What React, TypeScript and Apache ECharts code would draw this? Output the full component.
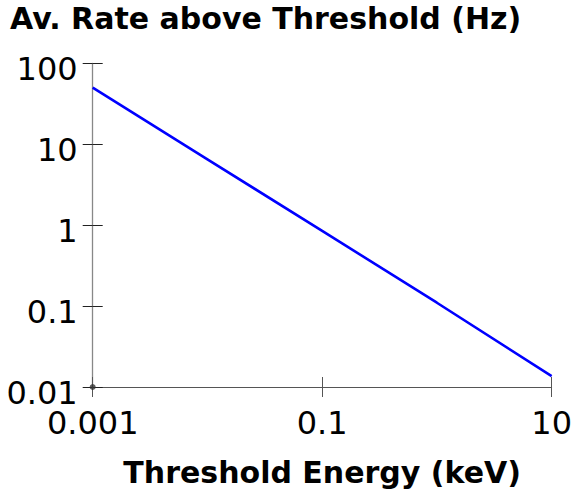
import React, { useEffect, useRef } from "react";
import * as echarts from "echarts";

const energies = [0.001, 0.01, 0.1, 1, 10];
const rates = [50, 6.5, 0.85, 0.11, 0.0136];
const yTickLabels = ["0.01", "0.1", "1", "10", "100"];
const xTickLabels = ["0.001", "0.1", "10"];
const titleText = "Av. Rate above Threshold (Hz)";
const xTitle = "Threshold Energy (keV)";

const FONT = "DejaVu Sans";

function fmt(v: number, labels: string[]) {
  const found = labels.find((l) => Math.abs(Math.log10(parseFloat(l)) - Math.log10(v)) < 1e-6);
  return found ?? "";
}

export default function App() {
  const ref = useRef<HTMLDivElement>(null);
  useEffect(() => {
    if (!ref.current) return;
    const chart = echarts.init(ref.current, undefined, { renderer: "svg" });
    const grid = { left: 92.7, right: 22.3, top: 63.3, bottom: 103.5 };
    const xBase = {
      type: "log" as const,
      logBase: 10,
      min: 0.001,
      max: 10,
      interval: 2,
      position: "bottom" as const,
      splitLine: { show: false },
      minorTick: { show: false },
    };
    const yBase = {
      type: "log" as const,
      logBase: 10,
      min: 0.01,
      max: 100,
      interval: 1,
      position: "left" as const,
      splitLine: { show: false },
      minorTick: { show: false },
    };
    chart.setOption({
      animation: false,
      backgroundColor: "#ffffff",
      title: {
        text: titleText,
        left: 10,
        top: 3,
        padding: 0,
        textStyle: { fontFamily: FONT, fontWeight: "bold", fontSize: 30, color: "#000" },
      },
      grid,
      xAxis: [
        {
          ...xBase,
          name: xTitle,
          nameLocation: "middle",
          nameGap: 70,
          nameTextStyle: { fontFamily: FONT, fontWeight: "bold", fontSize: 30, color: "#000" },
          axisLine: { show: true, lineStyle: { color: "#555", width: 1 } },
          axisTick: { show: true, inside: false, length: 10, lineStyle: { color: "#555" } },
          axisLabel: {
            show: true,
            margin: 20,
            fontFamily: FONT,
            fontSize: 32,
            color: "#000",
            formatter: (v: number) => fmt(v, xTickLabels),
          },
        },
        {
          ...xBase,
          axisLine: { show: false },
          axisTick: { show: true, inside: true, length: 10, lineStyle: { color: "#555" } },
          axisLabel: { show: false },
        },
      ],
      yAxis: [
        {
          ...yBase,
          axisLine: { show: true, lineStyle: { color: "#888", width: 1.3 } },
          axisTick: { show: true, inside: false, length: 10, lineStyle: { color: "#222" } },
          axisLabel: {
            show: true,
            margin: 15,
            fontFamily: FONT,
            fontSize: 32,
            color: "#000",
            formatter: (v: number) => {
              const s = fmt(v, yTickLabels);
              return s ? "{v|" + s + "}" : "";
            },
            rich: {
              v: {
                fontFamily: FONT,
                fontSize: 32,
                color: "#000",
                padding: [11, 0, 0, 0],
              },
            },
          },
        },
        {
          ...yBase,
          axisLine: { show: false },
          axisTick: { show: true, inside: true, length: 10, lineStyle: { color: "#222" } },
          axisLabel: { show: false },
        },
      ],
      series: [
        {
          type: "line",
          xAxisIndex: 0,
          yAxisIndex: 0,
          data: energies.map((e, i) => [e, rates[i]]),
          showSymbol: false,
          symbol: "none",
          lineStyle: { color: "#0000ff", width: 2.6 },
          z: 3,
        },
        {
          type: "scatter",
          xAxisIndex: 0,
          yAxisIndex: 0,
          data: [[energies[0], parseFloat(yTickLabels[0])]],
          symbol: "circle",
          symbolSize: 6,
          itemStyle: { color: "#333" },
          z: 4,
        },
      ],
    });
    return () => chart.dispose();
  }, []);
  return (
    <div
      ref={ref}
      style={{ position: "fixed", left: 0, top: 0, width: 575, height: 492, background: "#fff" }}
    />
  );
}
